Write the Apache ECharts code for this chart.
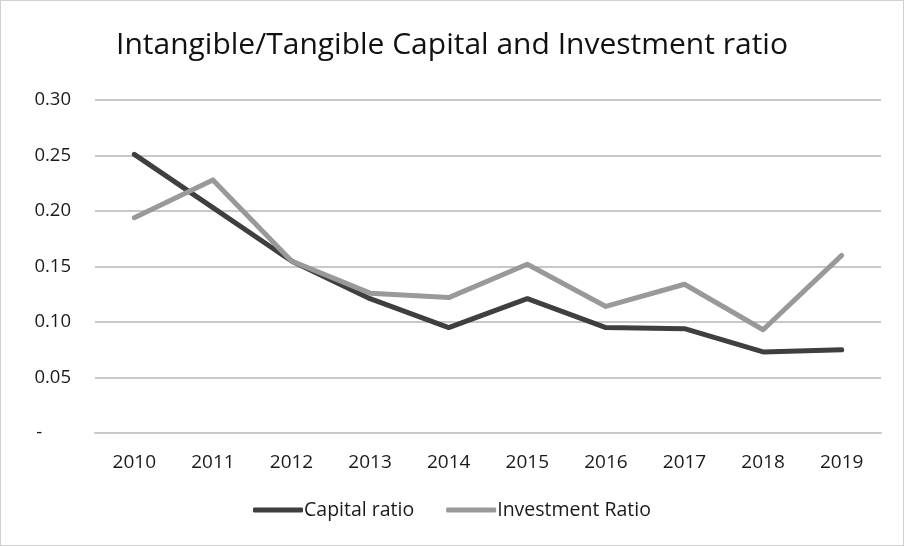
<!DOCTYPE html>
<html>
<head>
<meta charset="utf-8">
<script src="https://cdn.jsdelivr.net/npm/echarts@6/dist/echarts.min.js"></script>
<style>
  html, body { margin: 0; padding: 0; background: #fff; }
  #chart { width: 904px; height: 546px; box-sizing: border-box; border: 1px solid #d0d0d0; }
</style>
</head>
<body>
<div id="chart"></div>
<script>
// Years on the category axis
const years = ['2010', '2011', '2012', '2013', '2014', '2015', '2016', '2017', '2018', '2019'];
// Intangible/tangible capital ratio
const capitalRatio = [0.251, 0.203, 0.155, 0.121, 0.095, 0.121, 0.095, 0.094, 0.073, 0.075];
// Intangible/tangible investment ratio
const investmentRatio = [0.194, 0.228, 0.155, 0.126, 0.122, 0.152, 0.114, 0.134, 0.093, 0.160];
// Value axis ticks
const yTicks = [0, 0.05, 0.10, 0.15, 0.20, 0.25, 0.30];

const font = '"Open Sans", "Noto Sans", sans-serif';
const chart = echarts.init(document.getElementById('chart'), null, { renderer: 'canvas' });

chart.setOption({
  animation: false,
  backgroundColor: '#fff',
  title: {
    text: 'Intangible/Tangible Capital and Investment ratio',
    left: 'center',
    top: 24,
    padding: [5, 5, 5, 20],
    textStyle: { fontFamily: font, fontSize: 30, fontWeight: 'normal', color: '#111' }
  },
  legend: {
    bottom: 20,
    left: 'center',
    padding: [5, 5, 5, 20],
    itemWidth: 50,
    itemHeight: 5,
    itemGap: 32,
    icon: 'roundRect',
    textStyle: { fontFamily: font, fontSize: 19.5, color: '#1a1a1a', padding: [0, 0, 0, -4] },
    data: ['Capital ratio', 'Investment Ratio']
  },
  grid: { left: 94, right: 22, top: 99, bottom: 112, containLabel: false },
  xAxis: {
    type: 'category',
    data: years,
    boundaryGap: true,
    axisLine: { show: true, lineStyle: { color: '#c8c8c8', width: 2 } },
    axisTick: { show: false },
    axisLabel: { fontFamily: font, fontSize: 19, color: '#1a1a1a', margin: 20 }
  },
  yAxis: {
    type: 'value',
    min: yTicks[0],
    max: yTicks[yTicks.length - 1],
    interval: 0.05,
    axisLine: { show: false },
    axisTick: { show: false },
    splitLine: { lineStyle: { color: '#c8c8c8', width: 2 } },
    axisLabel: {
      fontFamily: font, fontSize: 18.5, color: '#1a1a1a', margin: 24,
      formatter: v => (Math.abs(v) < 1e-9 ? '-      ' : v.toFixed(2))
    }
  },
  series: [
    {
      name: 'Capital ratio',
      type: 'line',
      data: capitalRatio,
      symbol: 'none',
      color: '#3f3f3f',
      lineStyle: { width: 5, color: '#3f3f3f', cap: 'round', join: 'round' }
    },
    {
      name: 'Investment Ratio',
      type: 'line',
      data: investmentRatio,
      symbol: 'none',
      color: '#999999',
      lineStyle: { width: 5, color: '#999999', cap: 'round', join: 'round' }
    }
  ]
});
</script>
</body>
</html>
